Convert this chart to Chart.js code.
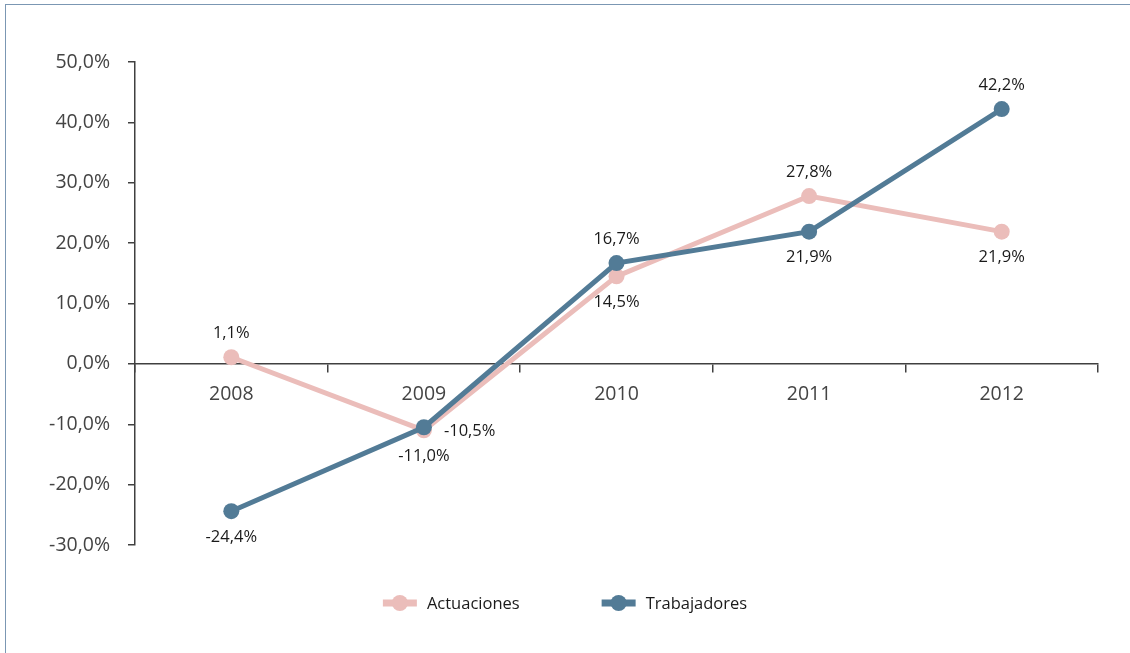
<!DOCTYPE html>
<html>
<head>
<meta charset="utf-8">
<script src="https://cdn.jsdelivr.net/npm/chart.js@4"></script>
<style>
    html, body { margin: 0; padding: 0; background: #fff; }
    #frame {
        position: absolute; left: 5px; top: 4px; right: 0; bottom: 0;
        border-top: 1px solid #7b97b3; border-left: 1px solid #7b97b3;
    }
    #wrap { position: absolute; left: 0; top: 0; width: 1130px; height: 653px; }
</style>
</head>
<body>
<div id="frame"></div>
<div id="wrap"><canvas id="chart" width="1130" height="653"></canvas></div>
<script>
// datos
const years = ['2008', '2009', '2010', '2011', '2012'];
const actuaciones = [1.1, -11.0, 14.5, 27.8, 21.9];
const trabajadores = [-24.4, -10.5, 16.7, 21.9, 42.2];
const yTicks = [-30, -20, -10, 0, 10, 20, 30, 40, 50];

// colocación de etiquetas (arriba / abajo / derecha)
const labelPos = [
    ['above', 'below', 'below', 'above', 'below'],
    ['below', 'right', 'above', 'below', 'above']
];

const PINK = '#ebbdba';
const BLUE = '#527b96';
const FONT = "'Open Sans', 'DejaVu Sans', sans-serif";

const fmt = (v) => v.toFixed(1).replace('.', ',') + '%';

// etiquetas de datos
const dataLabels = {
    id: 'dataLabels',
    afterDatasetsDraw(chart) {
        const ctx = chart.ctx;
        ctx.save();
        ctx.font = '16.5px ' + FONT;
        ctx.fillStyle = '#1a1a1a';
        chart.data.datasets.forEach((ds, i) => {
            const meta = chart.getDatasetMeta(i);
            meta.data.forEach((pt, j) => {
                const pos = labelPos[i][j];
                let x = pt.x, y = pt.y;
                ctx.textBaseline = 'middle';
                ctx.textAlign = 'center';
                if (pos === 'above') y -= 24;
                else if (pos === 'below') y += 26;
                else { ctx.textAlign = 'left'; x += 20; y += 4; }
                ctx.fillText(fmt(ds.data[j]), x, y);
            });
        });
        ctx.restore();
    }
};

// leyenda propia: línea con círculo
const lineLegend = {
    id: 'lineLegend',
    afterDraw(chart) {
        const ctx = chart.ctx;
        ctx.save();
        ctx.font = '16.5px ' + FONT;
        ctx.textBaseline = 'middle';
        const y = 603, markW = 34, gap = 10, between = 82;
        const items = chart.data.datasets.map(ds => ({
            label: ds.label, color: ds.borderColor,
            w: markW + gap + ctx.measureText(ds.label).width
        }));
        const total = items.reduce((s, it) => s + it.w, 0) + between * (items.length - 1);
        let x = chart.width / 2 - total / 2;
        items.forEach(it => {
            ctx.strokeStyle = it.color;
            ctx.fillStyle = it.color;
            ctx.lineWidth = 7;
            ctx.beginPath();
            ctx.moveTo(x, y);
            ctx.lineTo(x + markW, y);
            ctx.stroke();
            ctx.beginPath();
            ctx.arc(x + markW / 2, y, 8, 0, Math.PI * 2);
            ctx.fill();
            ctx.fillStyle = '#1a1a1a';
            ctx.textAlign = 'left';
            ctx.fillText(it.label, x + markW + gap, y + 1);
            x += it.w + between;
        });
        ctx.restore();
    }
};

new Chart(document.getElementById('chart'), {
    type: 'line',
    data: {
        labels: years,
        datasets: [
            {
                label: 'Actuaciones',
                data: actuaciones,
                borderColor: PINK,
                backgroundColor: PINK,
                borderWidth: 5,
                pointRadius: 8,
                pointBorderWidth: 0,
                tension: 0,
                order: 2
            },
            {
                label: 'Trabajadores',
                data: trabajadores,
                borderColor: BLUE,
                backgroundColor: BLUE,
                borderWidth: 5,
                pointRadius: 8,
                pointBorderWidth: 0,
                tension: 0,
                order: 1
            }
        ]
    },
    options: {
        responsive: false,
        animation: false,
        layout: { padding: { left: 0, right: 32, top: 62, bottom: 108 } },
        plugins: {
            legend: { display: false },
            tooltip: { enabled: false }
        },
        scales: {
            x: {
                position: { y: 0 },
                offset: true,
                grid: { offset: true, drawOnChartArea: false, drawTicks: true, tickLength: 8, color: '#404040', lineWidth: 1.5 },
                border: { display: true, color: '#404040', width: 1.5 },
                ticks: { font: { family: FONT, size: 19.5 }, color: '#444', padding: 11 }
            },
            y: {
                min: -30,
                max: 50,
                afterBuildTicks: (scale) => { scale.ticks = yTicks.map(v => ({ value: v })); },
                afterFit: (scale) => { scale.width = 135; },
                grid: { drawOnChartArea: false, drawTicks: true, tickLength: 7, color: '#404040', lineWidth: 1.5 },
                border: { display: true, color: '#404040', width: 1.5 },
                ticks: {
                    font: { family: FONT, size: 19.5 },
                    color: '#444',
                    padding: 18,
                    callback: (v) => fmt(v)
                }
            }
        }
    },
    plugins: [dataLabels, lineLegend]
});
</script>
</body>
</html>
